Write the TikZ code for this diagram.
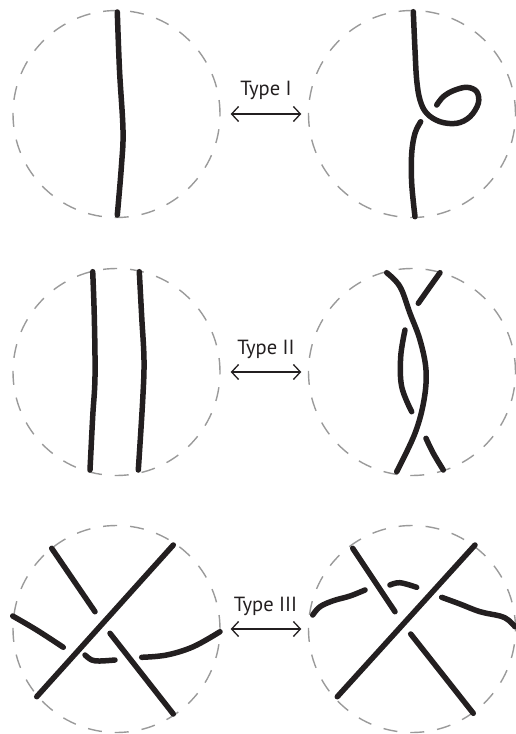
\documentclass[tikz,border=0pt]{standalone}
\usepackage{fontspec}
\setmainfont{PT Sans}
\usetikzlibrary{arrows.meta}
\definecolor{ink}{HTML}{231F20}
\definecolor{rim}{HTML}{9A9A9A}
\tikzset{
  ring/.style={circle, draw=rim, dash pattern=on 14pt off 13pt, line width=1.4pt, minimum size=207pt, inner sep=0pt},
  strand/.style={draw=ink, line width=5.5pt, line cap=round},
  move/.style={{Straight Barb[length=7pt,width=15pt]}-{Straight Barb[length=7pt,width=15pt]}, draw=ink, line width=1.3pt, shorten <=10pt, shorten >=6.5pt},
  lab/.style={text=ink, font=\fontsize{20.5}{24}\selectfont, anchor=base}
}
\begin{document}
\begin{tikzpicture}[x=1pt,y=-1pt]
  \useasboundingbox (0,0) rectangle (516,734);

  % the six discs
  \node[ring] (L1) at (116.5,114) {};
  \node[ring] (R1) at (412,114) {};
  \node[ring] (L2) at (116.5,372) {};
  \node[ring] (R2) at (412,372) {};
  \node[ring] (L3) at (116.5,629) {};
  \node[ring] (R3) at (412,629) {};

  % moves
  \draw[move] (L1) -- (R1);
  \node[lab] (t1) at (266,95) {Type I};
  \draw[move] (L2) -- (R2);
  \node[lab] (t2) at (266,354) {Type II};
  \draw[move] (L3) -- (R3);
  \node[lab] (t3) at (265.5,611.5) {Type III};

  % type I
  \draw[strand] plot[smooth, tension=0.6] coordinates {(117.3,12) (119.5,70) (123,130) (121.5,165) (117.3,215)};
  \draw[strand] plot[smooth, tension=0.6] coordinates {(413.3,11.7) (415,50) (416.7,80) (420,100) (426.7,113.3) (440,121.7) (456.7,123.3) (470,116.7) (478.3,103.3) (476.7,91.7) (466.7,87.3) (453.3,90.7) (443.3,96.7) (436.7,105)};
  \draw[strand] plot[smooth, tension=0.6] coordinates {(420.7,121.7) (415,133.3) (411.7,153.3) (411.7,183.3) (415,216.7)};

  % type II
  \draw[strand] plot[smooth, tension=0.6] coordinates {(92.7,271.7) (94.3,316.7) (95,376.7) (92.7,416.7) (90,470)};
  \draw[strand] plot[smooth, tension=0.6] coordinates {(139.3,271.7) (141.7,316.7) (144,360) (142.7,400) (138.3,470)};
  \draw[strand] plot[smooth, tension=0.6] coordinates {(386.7,272.7) (400,286.7) (410,313.3) (420,340) (426,370) (424,400) (415,433.3) (396.7,471.7)};
  \draw[strand] plot[smooth, tension=0.6] coordinates {(440,272.7) (430,286.7) (418.3,303.3)};
  \draw[strand] plot[smooth, tension=0.6] coordinates {(405,330) (400.7,356.7) (401.7,386.7) (411.7,411.7)};
  \draw[strand] plot[smooth, tension=0.6] coordinates {(426,438.3) (433.3,453.3) (443.3,470)};

  % type III, left
  \draw[strand] (173.3,545) -- (36.7,696.7);
  \draw[strand] (51.7,548.3) -- (95,611.7);
  \draw[strand] (110,633.3) -- (173.3,714);
  \draw[strand] plot[smooth, tension=0.6] coordinates {(12.7,616) (36.7,630) (63.3,647.3)};
  \draw[strand] plot[smooth, tension=0.6] coordinates {(85,655) (91.7,660) (100,661) (115,660)};
  \draw[strand] plot[smooth, tension=0.6] coordinates {(141.7,657.3) (166.7,655) (193.3,646.7) (220,631.7)};

  % type III, right
  \draw[strand] (475,545) -- (337.3,696.7);
  \draw[strand] (352.7,548.3) -- (395,611.7);
  \draw[strand] (410.7,634) -- (473.3,713.3);
  \draw[strand] plot[smooth, tension=0.6] coordinates {(312.7,615) (320,606.7) (333.3,600.7) (350,596) (365,590)};
  \draw[strand] plot[smooth, tension=0.6] coordinates {(390,585) (400,582.7) (416.7,587.3)};
  \draw[strand] plot[smooth, tension=0.6] coordinates {(441.7,597.3) (460,604) (480,611.7) (500,616) (508.3,620) (515,626.7)};
\end{tikzpicture}
\end{document}
